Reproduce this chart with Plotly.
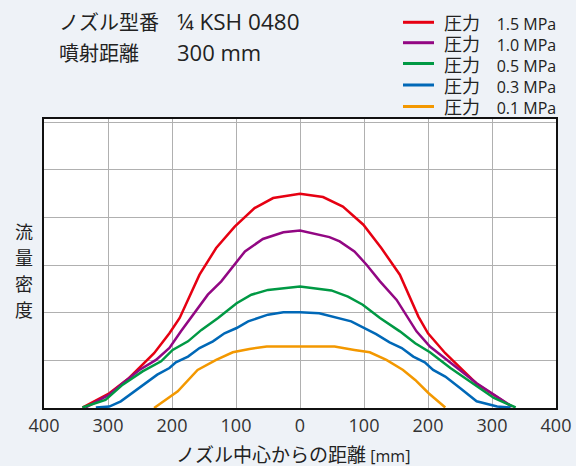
import plotly.graph_objects as go

# ---- data ----
x_red = [-340, -298, -267, -228, -204, -188, -157, -131, -102, -71, -42, 0,
         36, 67, 99, 127, 156, 185, 200, 227, 276, 331]
y_red = [0.01, 0.31, 0.63, 1.15, 1.57, 1.89, 2.80, 3.36, 3.81, 4.20, 4.41, 4.50,
         4.43, 4.23, 3.85, 3.36, 2.80, 1.92, 1.57, 1.15, 0.51, 0.03]

x_purple = [-335, -298, -277, -251, -225, -204, -186, -165, -144, -123, -105, -86, -58, -26, 0,
            46, 62, 85, 104, 125, 151, 182, 203, 232, 276, 331]
y_purple = [0.01, 0.28, 0.52, 0.80, 1.01, 1.26, 1.61, 1.99, 2.38, 2.66, 2.97, 3.29, 3.55, 3.69, 3.73,
            3.59, 3.50, 3.29, 3.01, 2.66, 2.27, 1.61, 1.29, 0.98, 0.52, 0.03]

x_green = [-340, -304, -277, -246, -217, -199, -175, -154, -128, -99, -76, -50, 0,
           49, 75, 98, 125, 156, 180, 203, 235, 266, 303, 337]
y_green = [0.01, 0.17, 0.49, 0.77, 0.98, 1.22, 1.40, 1.64, 1.89, 2.20, 2.38, 2.48, 2.55,
           2.47, 2.34, 2.17, 1.89, 1.61, 1.36, 1.17, 0.84, 0.56, 0.21, 0.01]

x_blue = [-319, -298, -280, -251, -223, -204, -194, -175, -157, -136, -118, -99, -81, -50, -26, 0,
          30, 80, 101, 119, 140, 159, 177, 195, 208, 227, 250, 276, 308, 329]
y_blue = [0.01, 0.03, 0.14, 0.42, 0.70, 0.84, 0.96, 1.08, 1.26, 1.40, 1.57, 1.68, 1.82, 1.96, 2.01, 2.01,
          1.99, 1.82, 1.68, 1.55, 1.38, 1.26, 1.08, 0.96, 0.80, 0.66, 0.42, 0.14, 0.03, 0.01]

x_orange = [-228, -191, -160, -131, -105, -79, -52, 0, 54, 85, 109, 135, 161, 180, 201, 227]
y_orange = [0.00, 0.35, 0.80, 1.01, 1.17, 1.24, 1.29, 1.29, 1.29, 1.22, 1.17, 1.01, 0.80, 0.59, 0.31, 0.01]

pressures = ["1.5", "1.0", "0.5", "0.3", "0.1"]
colors = ["#e60012", "#920783", "#009944", "#0068b7", "#f39800"]
series_x = [x_red, x_purple, x_green, x_blue, x_orange]
series_y = [y_red, y_purple, y_green, y_blue, y_orange]

x_tickvals = [-400, -300, -200, -100, 0, 100, 200, 300, 400]
x_ticktext = ["400", "300", "200", "100", "0", "100", "200", "300", "400"]

LATIN = "Open Sans, Noto Sans CJK JP, sans-serif"
CJK = "Noto Sans CJK JP, sans-serif"
TXT = "#222"

fig = go.Figure()
for p, c, xs, ys in zip(pressures, colors, series_x, series_y):
    fig.add_trace(go.Scatter(
        x=xs, y=ys, mode="lines",
        line=dict(color=c, width=2.5),
        name=f"圧力 {p} MPa", showlegend=False,
    ))

W, H = 576, 466
ml, mr, mt, mb = 44, 20, 119, 58
pw, ph = W - ml - mr, H - mt - mb

def px(xp):
    return (xp - ml) / pw

def py(yp):
    return (H - mb - yp) / ph

annotations = [
    dict(text="ノズル型番", x=px(57), y=py(22), xanchor="left", yanchor="middle",
         font=dict(size=20, color=TXT, family=CJK)),
    dict(text="¼ KSH 0480", x=px(175), y=py(22), xanchor="left", yanchor="middle",
         font=dict(size=22.5, color=TXT, family=LATIN)),
    dict(text="噴射距離", x=px(57), y=py(52.5), xanchor="left", yanchor="middle",
         font=dict(size=20, color=TXT, family=CJK)),
    dict(text="300 mm", x=px(175), y=py(52.5), xanchor="left", yanchor="middle",
         font=dict(size=22, color=TXT, family=LATIN)),
    dict(text="ノズル中心からの距離 <span style='font-family:Open Sans;font-size:16px'>[mm]</span>",
         x=px(293), y=py(453), xanchor="center", yanchor="middle",
         font=dict(size=19, color=TXT, family=CJK)),
]
for ch, yy in zip("流量密度", [231, 257, 283, 309]):
    annotations.append(dict(text=ch, x=px(24), y=py(yy), xanchor="center", yanchor="middle",
                            font=dict(size=18, color=TXT, family=CJK)))

# manual legend (swatch lines + labels)
shapes = []
legend_rows = [22.3, 42.7, 63.5, 85, 106.5]
for p, c, yy in zip(pressures, colors, legend_rows):
    shapes.append(dict(type="line", xref="paper", yref="paper",
                       x0=px(403), x1=px(434), y0=py(yy), y1=py(yy),
                       line=dict(color=c, width=3)))
    annotations.append(dict(
        text=f"圧力<span style='font-family:Open Sans;font-size:16px'>\u00a0\u00a0\u00a0\u00a0{p} MPa</span>",
        x=px(442), y=py(yy), xanchor="left", yanchor="middle", height=20,
        font=dict(size=18, color=TXT, family=CJK)))

for a in annotations:
    a.update(xref="paper", yref="paper", showarrow=False)

fig.update_layout(
    width=W, height=H,
    margin=dict(l=ml, r=mr, t=mt, b=mb, autoexpand=False),
    paper_bgcolor="#eef2f7",
    plot_bgcolor="#ffffff",
    font=dict(family=LATIN, size=15, color="#333"),
    showlegend=False,
    annotations=annotations,
    shapes=shapes,
    xaxis=dict(range=[-400, 400], tickvals=x_tickvals, ticktext=x_ticktext,
               showgrid=True, gridcolor="#b0b0b0", gridwidth=1,
               zeroline=False, showline=True, linecolor="#111", linewidth=2, mirror=True,
               ticks="", tickfont=dict(size=18, color="#333", family=LATIN)),
    yaxis=dict(range=[0, 6.07], dtick=1, showticklabels=False,
               showgrid=True, gridcolor="#b0b0b0", gridwidth=1,
               zeroline=False, showline=True, linecolor="#111", linewidth=2, mirror=True,
               ticks=""),
)

fig.write_html(
    "out.html",
    config={"displayModeBar": False},
    post_script="document.body.style.margin='0';document.body.style.overflow='hidden';",
)
